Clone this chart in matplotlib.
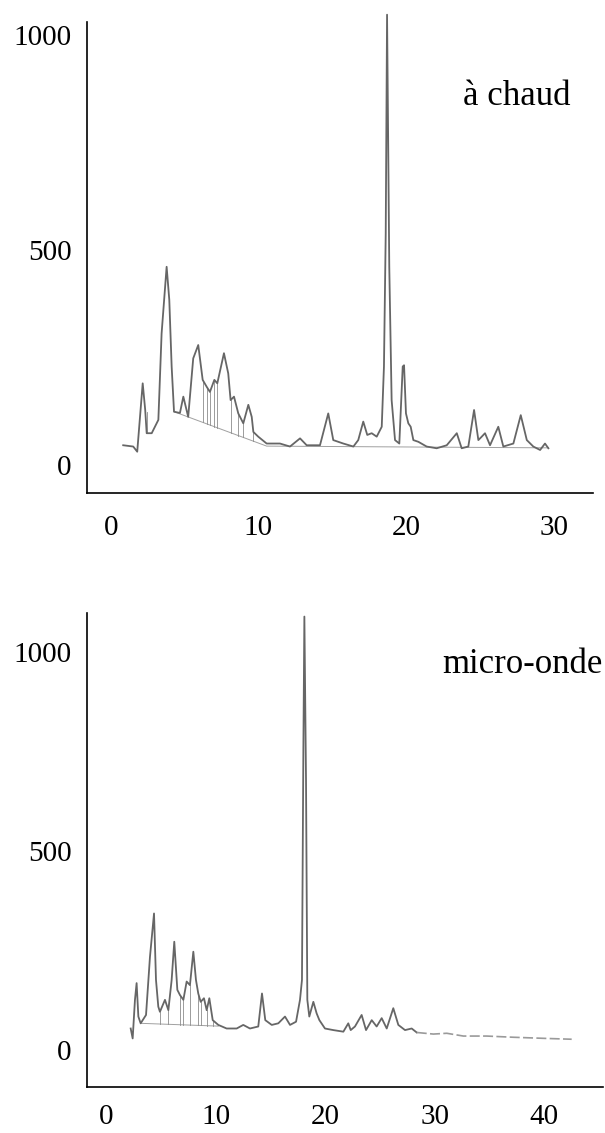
import numpy as np
import matplotlib
matplotlib.use("Agg")
import matplotlib.pyplot as plt

plt.rcParams["font.family"] = ["Liberation Serif", "DejaVu Serif"]

# --- "à chaud" trace (retention time in min, detector response) ---
hot_t = [0.85, 1.53, 1.80, 2.17, 2.34, 2.44, 2.78, 3.23, 3.45, 3.79, 3.97, 4.13,
         4.29, 4.69, 4.92, 5.25, 5.59, 5.93, 6.23, 6.50, 6.72, 7.02, 7.22, 7.67,
         7.96, 8.12, 8.35, 8.64, 8.98, 9.32, 9.55, 9.66, 9.99, 10.56, 11.46, 12.14,
         12.82, 13.27, 14.17, 14.73, 15.07, 15.75, 16.43, 16.76, 17.10, 17.37, 17.67,
         18.01, 18.35, 18.50, 18.62, 18.71, 18.86, 19.02, 19.25, 19.54, 19.77, 19.86,
         19.99, 20.15, 20.31, 20.49, 20.83, 21.39, 22.07, 22.75, 23.43, 23.76, 24.21,
         24.60, 24.89, 25.12, 25.34, 25.68, 26.24, 26.58, 27.26, 27.76, 28.17, 28.61,
         29.07, 29.40, 29.63]
hot_v = [46, 43, 31, 190, 128, 74, 74, 105, 306, 461, 384, 229,
         124, 121, 159, 112, 248, 279, 198, 182, 170, 198, 190, 260,
         213, 151, 159, 120, 97, 140, 112, 77, 66, 50, 50, 43,
         62, 46, 46, 120, 58, 50, 43, 58, 101, 70, 74,
         66, 89, 229, 539, 1047, 461, 151, 58, 50, 229, 232,
         120, 97, 89, 58, 54, 43, 39, 46, 74, 39, 43,
         128, 58, 66, 74, 46, 89, 43, 50, 116, 58, 43,
         35, 50, 39]
hot_base_t = [4.29, 10.56, 29.63]
hot_base_v = [124, 44, 40]
hot_drops = [2.44, 5.25, 6.23, 6.50, 6.72, 7.02, 7.22, 8.12, 8.64, 8.98, 9.66]

# --- "micro-onde" trace ---
mw_t = [2.22, 2.40, 2.61, 2.76, 2.92, 3.13, 3.62, 3.98, 4.35, 4.53, 4.74, 4.89,
        5.35, 5.66, 5.96, 6.20, 6.48, 6.72, 7.03, 7.33, 7.63, 7.94, 8.18, 8.39,
        8.61, 8.91, 9.16, 9.40, 9.71, 10.22, 10.98, 11.90, 12.50, 13.11, 13.87, 14.21,
        14.51, 15.10, 15.70, 16.31, 16.77, 17.32, 17.68, 17.86, 17.99, 18.08, 18.23,
        18.35, 18.53, 18.90, 19.20, 19.45, 19.96, 20.72, 21.64, 22.09, 22.31, 22.70,
        23.31, 23.71, 24.23, 24.68, 25.14, 25.60, 26.20, 26.66, 27.27, 27.88, 28.34]
mw_v = [54, 29, 126, 168, 84, 67, 88, 234, 343, 176, 109, 96,
        126, 100, 176, 272, 151, 138, 126, 172, 163, 247, 176, 142,
        121, 130, 100, 130, 75, 63, 54, 54, 63, 54, 59, 142,
        75, 63, 67, 84, 63, 71, 126, 176, 762, 1089, 678,
        126, 84, 121, 92, 75, 54, 50, 46, 67, 50, 59,
        88, 50, 75, 59, 80, 54, 105, 63, 50, 54, 44]
# faint, broken tail of the micro-onde run
mw_tail_t = [28.34, 29.86, 31.08, 32.60, 34.73, 37.16, 40.21, 42.49]
mw_tail_v = [44, 40, 42, 35, 35, 32, 29, 27]
mw_base_t = [3.13, 10.22]
mw_base_v = [67, 60]
mw_drops = [4.89, 5.66, 6.72, 7.03, 7.63, 8.39, 8.61, 9.16, 9.71]

y_ticks = [0, 500, 1000]
hot_x_ticks = [0, 10, 20, 30]
mw_x_ticks = [0, 10, 20, 30, 40]

trace_color = "#666666"
W, H = 605, 1133
fig = plt.figure(figsize=(W / 100, H / 100), dpi=100)


def panel(rect, t, v, base_t, base_v, drops, xlim, ylim, xticks, label, label_xy, xpad):
    ax = fig.add_axes(rect)
    ax.plot(t, v, color=trace_color, lw=1.3, clip_on=False, zorder=3,
            solid_joinstyle="round")
    ax.plot(base_t, base_v, color="#a0a0a0", lw=0.7, zorder=2)
    for d in drops:
        top = np.interp(d, t, v)
        bot = np.interp(d, base_t, base_v)
        ax.plot([d, d], [bot, top], color="#8c8c8c", lw=0.6, zorder=2)
    ax.set_xlim(*xlim)
    ax.set_ylim(*ylim)
    ax.set_xticks(xticks)
    ax.set_yticks(y_ticks)
    ax.tick_params(axis="both", length=0, labelsize=21)
    ax.tick_params(axis="x", pad=xpad)
    ax.tick_params(axis="y", pad=11)
    for s in ("top", "right"):
        ax.spines[s].set_visible(False)
    for s in ("left", "bottom"):
        ax.spines[s].set_linewidth(1.2)
    ax.text(label_xy[0], label_xy[1], label, transform=ax.transAxes,
            fontsize=25, ha="left", va="baseline")
    return ax


panel([87 / W, 1 - 493 / H, 506 / W, 471 / H], hot_t, hot_v, hot_base_t, hot_base_v,
      hot_drops, (-1.60, 32.65), (-65, 1030), hot_x_ticks, "à chaud", (0.743, 0.824), 16)
ax2 = panel([87 / W, 1 - 1087 / H, 516 / W, 474 / H], mw_t, mw_v, mw_base_t, mw_base_v,
            mw_drops, (-1.77, 45.35), (-93, 1098), mw_x_ticks, "micro-onde", (0.688, 0.873), 12)
ax2.plot(mw_tail_t, mw_tail_v, color="#9a9a9a", lw=1.2, ls=(0, (6, 2)), zorder=3)

fig.savefig("out.png", dpi=100)
